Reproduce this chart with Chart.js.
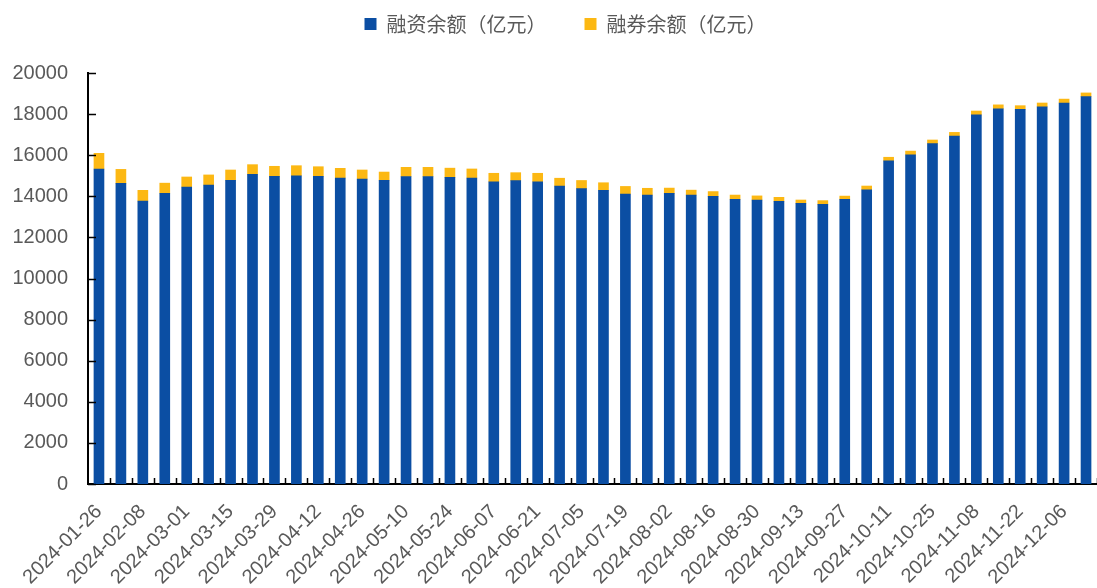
<!DOCTYPE html>
<html>
<head>
<meta charset="utf-8">
<script src="https://cdn.jsdelivr.net/npm/chart.js@4.4.1/dist/chart.umd.min.js"></script>
<style>
  html, body { margin: 0; padding: 0; background: #fff; }
  #wrap { width: 1097px; height: 588px; position: relative; }
</style>
</head>
<body>
<div id="wrap"><canvas id="chart"></canvas></div>
<script>
// weekly trade dates
const dates = [
  '2024-01-26', '2024-02-02', '2024-02-08', '2024-02-23', '2024-03-01', '2024-03-08',
  '2024-03-15', '2024-03-22', '2024-03-29', '2024-04-03', '2024-04-12', '2024-04-19',
  '2024-04-26', '2024-04-30', '2024-05-10', '2024-05-17', '2024-05-24', '2024-05-31',
  '2024-06-07', '2024-06-14', '2024-06-21', '2024-06-28', '2024-07-05', '2024-07-12',
  '2024-07-19', '2024-07-26', '2024-08-02', '2024-08-09', '2024-08-16', '2024-08-23',
  '2024-08-30', '2024-09-06', '2024-09-13', '2024-09-20', '2024-09-27', '2024-09-30',
  '2024-10-11', '2024-10-18', '2024-10-25', '2024-11-01', '2024-11-08', '2024-11-15',
  '2024-11-22', '2024-11-29', '2024-12-06', '2024-12-13'
];

// 融资余额（亿元）
const marginBalance = [
  15330, 14630, 13770, 14150, 14450, 14550,
  14780, 15070, 14970, 15000, 14970, 14890,
  14840, 14780, 14960, 14960, 14920, 14890,
  14700, 14760, 14710, 14500, 14370, 14290,
  14110, 14060, 14150, 14060, 14000, 13850,
  13820, 13760, 13660, 13610, 13850, 14320,
  15720, 16020, 16560, 16930, 17960, 18260,
  18230, 18350, 18540, 18850
];

// 融券余额（亿元）
const shortBalance = [
  760, 680, 520, 490, 490, 490,
  500, 470, 490, 490, 470, 470,
  440, 400, 450, 450, 450, 440,
  420, 390, 410, 380, 400, 370,
  370, 330, 250, 240, 230, 210,
  200, 190, 160, 180, 160, 180,
  180, 180, 180, 180, 190, 190,
  180, 190, 190, 180
];

const yTicks = [0, 2000, 4000, 6000, 8000, 10000, 12000, 14000, 16000, 18000, 20000];

// inward tick marks on both axes
const innerTicks = {
  id: 'innerTicks',
  afterDraw(chart) {
    const ctx = chart.ctx;
    const x = chart.scales.x;
    const y = chart.scales.y;
    ctx.save();
    ctx.strokeStyle = '#000';
    ctx.lineWidth = 1.5;
    ctx.beginPath();
    yTicks.forEach(v => {
      const py = Math.round(y.getPixelForValue(v)) + 0.5;
      ctx.moveTo(x.left, py);
      ctx.lineTo(x.left + 8, py);
    });
    for (let i = 1; i <= dates.length; i++) {
      const px = Math.round(x.getPixelForValue(i - 0.5)) + 0.5;
      ctx.moveTo(px, y.bottom);
      ctx.lineTo(px, y.bottom - 6);
    }
    ctx.stroke();
    ctx.restore();
  }
};

// legend sits higher and a bit right of centre
const legendSpace = {
  id: 'legendSpace',
  beforeInit(chart) {
    const fit = chart.legend.fit;
    chart.legend.fit = function () {
      fit.call(this);
      this.height = 97;
    };
  },
  afterLayout(chart) {
    chart.legend.left += 17;
    chart.legend.right += 17;
  }
};

new Chart(document.getElementById('chart'), {
  type: 'bar',
  data: {
    labels: dates,
    datasets: [{
      label: '融资余额（亿元）',
      data: marginBalance,
      backgroundColor: '#0B4EA3',
      barThickness: 10
    }, {
      label: '融券余额（亿元）',
      data: shortBalance,
      backgroundColor: '#FCB813',
      barThickness: 10
    }]
  },
  options: {
    responsive: true,
    maintainAspectRatio: false,
    animation: false,
    layout: { padding: { left: 0, right: 0, top: -24, bottom: 0 } },
    plugins: {
      legend: {
        position: 'top',
        labels: {
          boxWidth: 12,
          boxHeight: 12,
          padding: 38,
          color: '#595959',
          font: { family: '"Noto Sans CJK SC", "Liberation Sans", sans-serif', size: 20 }
        }
      },
      tooltip: { enabled: false }
    },
    scales: {
      x: {
        stacked: true,
        grid: { display: false, drawTicks: false },
        border: { display: true, color: '#000', width: 2 },
        afterFit(scale) {
          scale.paddingLeft = 0;
          scale.paddingRight = 0;
          scale.height = 104;
        },
        ticks: {
          autoSkip: false,
          maxRotation: 45,
          minRotation: 45,
          padding: 16,
          color: '#595959',
          font: { family: '"Liberation Sans", Arial, sans-serif', size: 20 },
          callback: function (value, index) {
            return index % 2 === 0 ? dates[index] : '';
          }
        }
      },
      y: {
        stacked: true,
        min: 0,
        max: 20000,
        grid: { display: false, drawTicks: false },
        border: { display: true, color: '#000', width: 2 },
        afterFit(scale) {
          scale.width = 88;
        },
        ticks: {
          stepSize: 2000,
          padding: 20,
          color: '#595959',
          font: { family: '"Liberation Sans", Arial, sans-serif', size: 20 },
          callback: function (value) {
            return String(value);
          }
        }
      }
    }
  },
  plugins: [innerTicks, legendSpace]
});
</script>
</body>
</html>
